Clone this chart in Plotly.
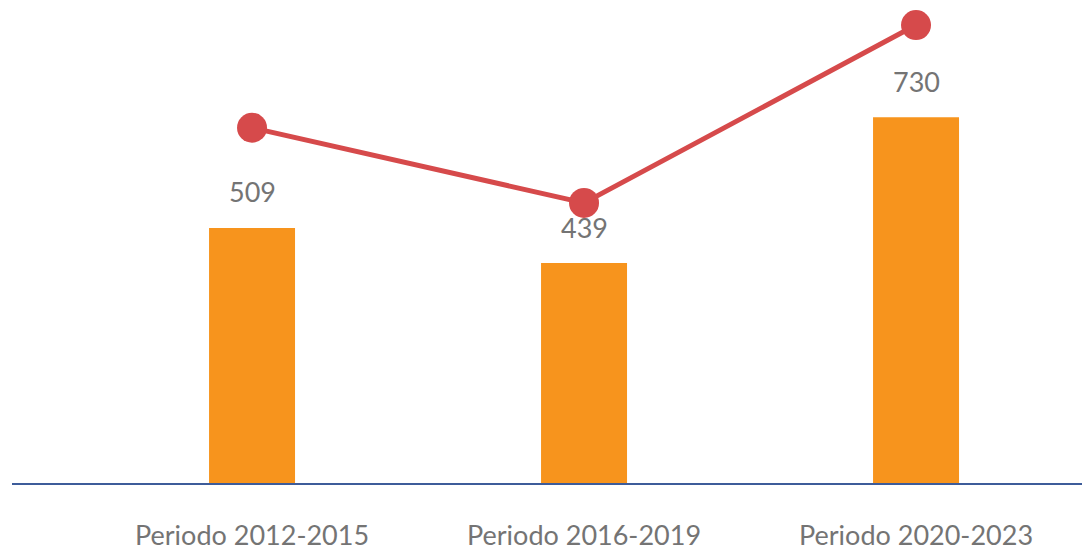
import plotly.graph_objects as go

categorias = ["Periodo 2012-2015", "Periodo 2016-2019", "Periodo 2020-2023"]
valores_barras = [509, 439, 730]
valores_linea = [709, 559, 914]

posiciones = list(range(len(categorias)))

fig = go.Figure()
fig.add_trace(go.Bar(
    x=posiciones, y=valores_barras, width=0.259,
    marker=dict(color="#F7941D", line=dict(width=0)),
    hoverinfo="skip",
))
fig.add_trace(go.Scatter(
    x=posiciones, y=valores_linea, mode="lines+markers",
    line=dict(color="#D64A4B", width=5),
    marker=dict(color="#D64A4B", size=30),
    cliponaxis=False,
    hoverinfo="skip",
))

for xp, v in zip(posiciones, valores_barras):
    fig.add_annotation(
        x=xp, y=v, text=str(v), showarrow=False,
        yanchor="middle", yshift=36,
        font=dict(family="Lato", size=27, color="#747474"),
    )

fig.update_layout(
    width=1082, height=547,
    margin=dict(l=4, r=0, t=0, b=72),
    paper_bgcolor="white", plot_bgcolor="white",
    showlegend=False,
    font=dict(family="Lato", size=27, color="#747474"),
    xaxis=dict(
        range=[-0.723, 2.524],
        tickmode="array", tickvals=posiciones, ticktext=categorias,
        showline=True, linecolor="#3D5C9A", linewidth=2,
        showgrid=False, zeroline=False,
        ticks="outside", ticklen=28, tickcolor="rgba(0,0,0,0)",
        tickfont=dict(family="Lato", size=27, color="#747474"),
    ),
    yaxis=dict(
        range=[0, 948], visible=False, showgrid=False, zeroline=False,
    ),
)

fig.write_html("out.html")
